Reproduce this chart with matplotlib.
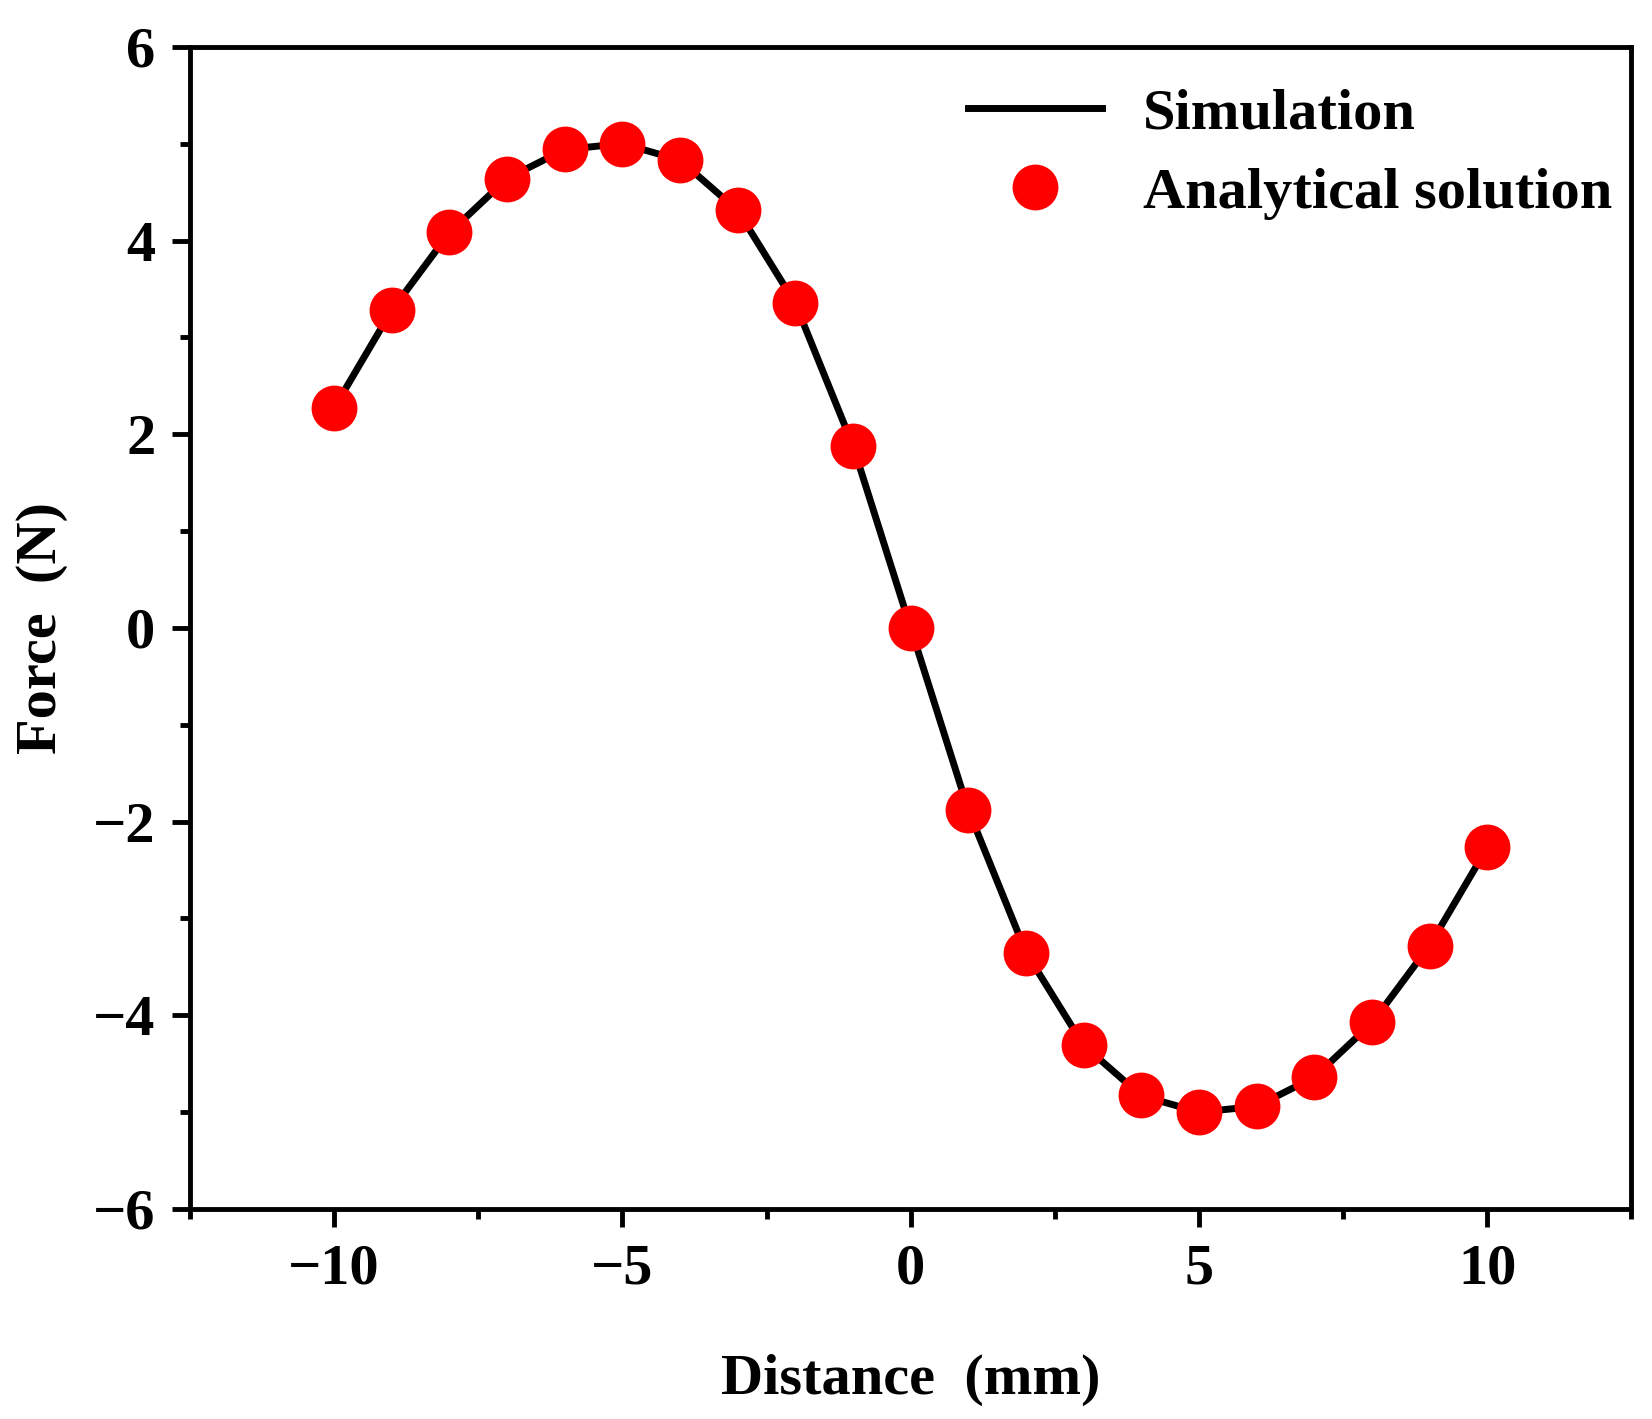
import matplotlib
matplotlib.use("Agg")
import matplotlib.pyplot as plt
from matplotlib.ticker import MultipleLocator

# data
distance = [-10, -9, -8, -7, -6, -5, -4, -3, -2, -1, 0,
            1, 2, 3, 4, 5, 6, 7, 8, 9, 10]
simulation = [2.27, 3.28, 4.08, 4.64, 4.94, 5.00, 4.83, 4.31, 3.35, 1.88, 0.0,
              -1.88, -3.35, -4.31, -4.83, -5.00, -4.94, -4.64, -4.08, -3.28, -2.27]
analytical = [2.27, 3.28, 4.09, 4.64, 4.94, 5.00, 4.83, 4.31, 3.35, 1.88, 0.0,
              -1.88, -3.36, -4.31, -4.82, -5.00, -4.94, -4.64, -4.07, -3.28, -2.26]

plt.rcParams['font.family'] = ['Liberation Serif', 'DejaVu Serif']
plt.rcParams['font.weight'] = 'bold'
plt.rcParams['axes.unicode_minus'] = True

fig = plt.figure(figsize=(16.52, 14.19), dpi=100)
ax = fig.add_axes([0.115, 0.148, 0.8725, 0.819])

ax.plot(distance, simulation, color='black', lw=5, label='Simulation', zorder=2)
ax.plot(distance, analytical, 'o', color='#ff0000', ms=33, mec='none',
        label='Analytical solution', zorder=3)

ax.set_xlim(-12.5, 12.5)
ax.set_ylim(-6, 6)
ax.xaxis.set_major_locator(MultipleLocator(5))
ax.xaxis.set_minor_locator(MultipleLocator(2.5))
ax.yaxis.set_major_locator(MultipleLocator(2))
ax.yaxis.set_minor_locator(MultipleLocator(1))

for s in ax.spines.values():
    s.set_linewidth(3.5)
ax.tick_params(which='major', direction='out', length=13, width=3.5,
               labelsize=42, pad=12)
ax.tick_params(which='minor', direction='out', length=7, width=3.5)
ax.tick_params(top=False, right=False, which='both')
for lab in ax.get_xticklabels() + ax.get_yticklabels():
    lab.set_fontweight('bold')

ax.set_xlabel('Distance  (mm)', fontsize=42, fontweight='bold', labelpad=42)
ax.set_ylabel('Force  (N)', fontsize=42, fontweight='bold', labelpad=18)

ax.legend(loc='upper right', bbox_to_anchor=(1.015, 1.0), frameon=False,
          handlelength=2.3, handletextpad=0.7, borderaxespad=0.3,
          labelspacing=0.45, prop={'weight': 'bold', 'size': 42})

fig.savefig('out.png', dpi=100)
